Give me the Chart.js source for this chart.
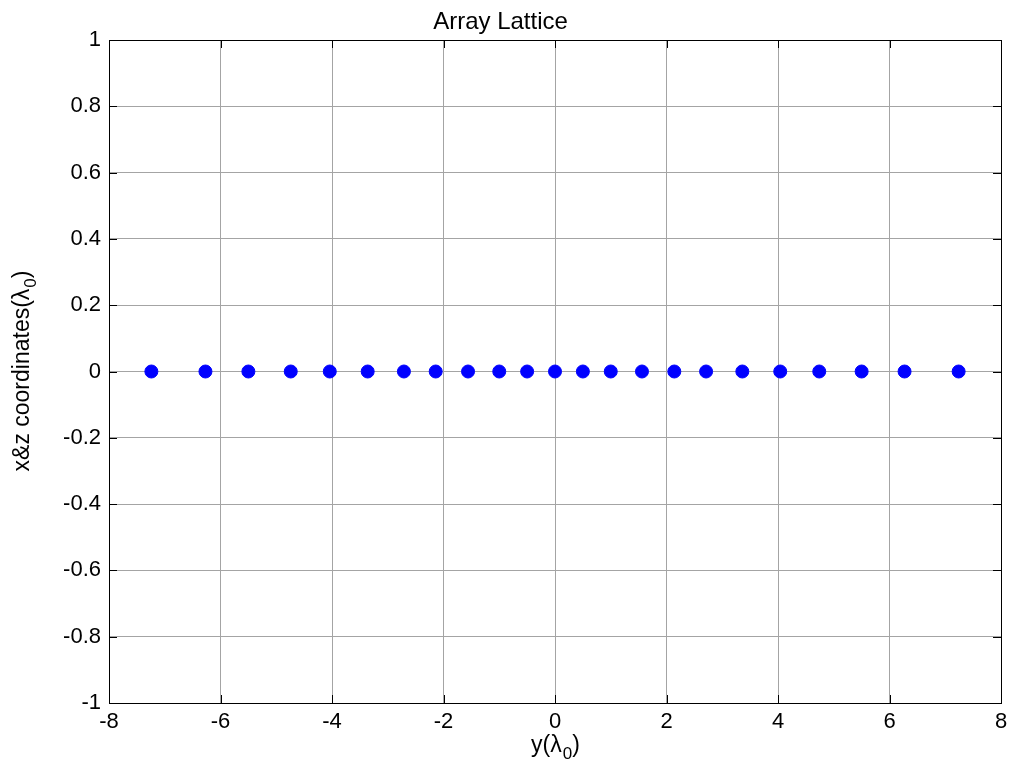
<!DOCTYPE html>
<html>
<head>
<meta charset="utf-8">
<title>Array Lattice</title>
<script src="https://cdn.jsdelivr.net/npm/chart.js@4/dist/chart.umd.min.js"></script>
<style>
  html, body { margin: 0; padding: 0; background: #fff; }
  #wrap { width: 1014px; height: 769px; }
</style>
</head>
<body>
<div id="wrap"><canvas id="lattice"></canvas></div>
<script>
// element positions along y, in wavelengths
const yPos = [-7.24, -6.27, -5.5, -4.74, -4.04, -3.36, -2.71, -2.14, -1.56, -1.0, -0.5, 0,
              0.5, 1.0, 1.56, 2.14, 2.71, 3.36, 4.04, 4.74, 5.5, 6.27, 7.24];
// x & z coordinates (all elements lie on the axis)
const xzPos = [0, 0, 0, 0, 0, 0, 0, 0, 0, 0, 0, 0, 0, 0, 0, 0, 0, 0, 0, 0, 0, 0, 0];
const xTicks = [-8, -6, -4, -2, 0, 2, 4, 6, 8];
const yTicks = [-1, -0.8, -0.6, -0.4, -0.2, 0, 0.2, 0.4, 0.6, 0.8, 1];
// axis labels: [main text, subscript, closing text]
const xLabel = ['y(λ', '0', ')'];
const yLabel = ['x&z coordinates(λ', '0', ')'];

const font = "'Liberation Sans', Arial, Helvetica, sans-serif";

// draws "main + lowered subscript + tail" centred at (0,0) of the current transform
function drawSubLabel(ctx, parts, size) {
    const big = size + 'px ' + font;
    const small = Math.round(size * 0.75) + 'px ' + font;
    ctx.font = big;
    const w1 = ctx.measureText(parts[0]).width;
    const w3 = ctx.measureText(parts[2]).width;
    ctx.font = small;
    const w2 = ctx.measureText(parts[1]).width;
    let x = -(w1 + w2 + w3) / 2;
    ctx.textBaseline = 'alphabetic';
    ctx.textAlign = 'left';
    ctx.font = big;
    ctx.fillText(parts[0], x, 7);
    x += w1 + 1;
    ctx.font = small;
    ctx.fillText(parts[1], x, 14);
    x += w2;
    ctx.font = big;
    ctx.fillText(parts[2], x, 7);
}

// box around the plot, inward tick marks and the axis labels
const boxPlugin = {
    id: 'box',
    afterDraw(chart) {
        const { ctx, chartArea: a, scales } = chart;
        ctx.save();
        ctx.strokeStyle = '#000';
        ctx.lineWidth = 1;
        ctx.beginPath();
        xTicks.forEach(v => {
            const px = Math.round(scales.x.getPixelForValue(v)) + 0.5;
            ctx.moveTo(px, a.bottom); ctx.lineTo(px, a.bottom - 8);
            ctx.moveTo(px, a.top); ctx.lineTo(px, a.top + 8);
        });
        yTicks.forEach(v => {
            const py = Math.round(scales.y.getPixelForValue(v)) + 0.5;
            ctx.moveTo(a.left, py); ctx.lineTo(a.left + 8, py);
            ctx.moveTo(a.right, py); ctx.lineTo(a.right - 8, py);
        });
        ctx.stroke();
        ctx.strokeRect(Math.round(a.left) + 0.5, Math.round(a.top) + 0.5,
                       Math.round(a.right - a.left), Math.round(a.bottom - a.top));

        ctx.fillStyle = '#000';
        ctx.save();
        ctx.translate((a.left + a.right) / 2, 745);
        drawSubLabel(ctx, xLabel, 23);
        ctx.restore();

        ctx.save();
        ctx.translate(22, (a.top + a.bottom) / 2);
        ctx.rotate(-Math.PI / 2);
        drawSubLabel(ctx, yLabel, 23);
        ctx.restore();
        ctx.restore();
    }
};

const points = yPos.map((v, i) => ({ x: v, y: xzPos[i] }));

new Chart(document.getElementById('lattice'), {
    type: 'scatter',
    data: {
        datasets: [{
            data: points,
            backgroundColor: '#0000ff',
            borderColor: '#0000ff',
            pointRadius: 6.5,
            pointHoverRadius: 6.5
        }]
    },
    options: {
        responsive: true,
        maintainAspectRatio: false,
        animation: false,
        layout: { padding: { left: 0, right: 13, top: 0, bottom: 0 } },
        plugins: {
            legend: { display: false },
            tooltip: { enabled: false },
            title: {
                display: true,
                text: 'Array Lattice',
                color: '#000',
                font: { family: font, size: 24, weight: 'normal', lineHeight: 1.0 },
                padding: { top: 10, bottom: 6 }
            }
        },
        scales: {
            x: {
                type: 'linear',
                min: -8,
                max: 8,
                afterBuildTicks: s => { s.ticks = xTicks.map(v => ({ value: v })); },
                afterFit: s => { s.height = 66; },
                grid: { color: '#a4a4a4', lineWidth: 1, tickLength: 0, drawTicks: false },
                border: { display: false },
                ticks: {
                    color: '#000',
                    padding: 6,
                    maxRotation: 0,
                    font: { family: font, size: 22 },
                    callback: v => String(v)
                }
            },
            y: {
                type: 'linear',
                min: -1,
                max: 1,
                afterBuildTicks: s => { s.ticks = yTicks.map(v => ({ value: v })); },
                afterFit: s => { s.width = 109; },
                grid: { color: '#a4a4a4', lineWidth: 1, tickLength: 0, drawTicks: false },
                border: { display: false },
                ticks: {
                    color: '#000',
                    padding: 8,
                    font: { family: font, size: 22 },
                    callback: v => String(Number(v.toFixed(1)))
                }
            }
        }
    },
    plugins: [boxPlugin]
});
</script>
</body>
</html>
